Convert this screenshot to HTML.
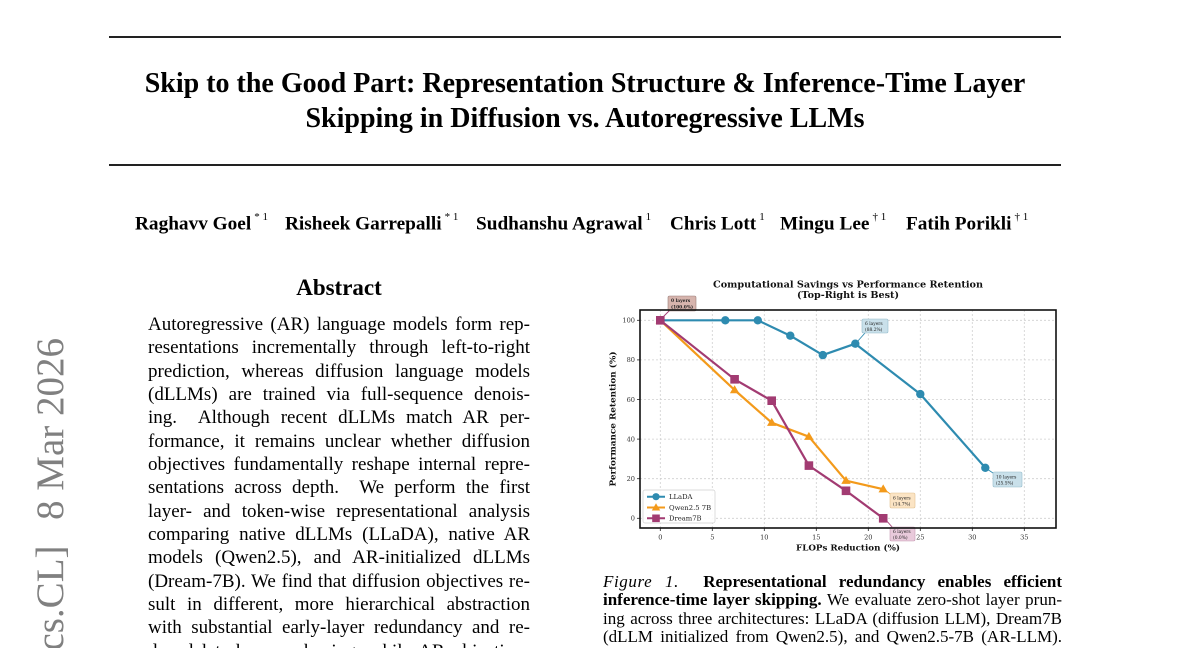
<!DOCTYPE html>
<html>
<head>
<meta charset="utf-8">
<style>
  html,body{margin:0;padding:0;background:#fff;}
  body{width:1200px;height:648px;position:relative;overflow:hidden;font-family:"Liberation Serif","Times New Roman",serif;color:#000;}
  .rule{position:absolute;left:109px;width:952px;height:2px;background:#222;}
  .title{position:absolute;left:0;width:1170px;text-align:center;font-weight:bold;font-size:28px;line-height:28px;white-space:nowrap;}
  .auth{position:absolute;top:210px;font-weight:bold;font-size:19.3px;line-height:19px;white-space:nowrap;}
  .auth sup{font-weight:normal;font-size:11px;position:relative;top:-2px;margin-left:3px;}
  .abs-h{position:absolute;left:148px;width:382px;top:276px;text-align:center;font-weight:bold;font-size:23px;line-height:23px;}
  .abs{position:absolute;left:148px;top:313px;width:382px;height:335px;overflow:hidden;font-size:19px;}
  .abs div,.cap div{height:23.33px;line-height:23.33px;overflow:hidden;text-align:justify;text-align-last:justify;}
  .cap{position:absolute;left:603px;top:572.5px;width:459px;font-size:17px;}
  .cap div{height:18.6px;line-height:18.6px;}
</style>
</head>
<body>
<div class="rule" style="top:36px"></div>
<div class="title" style="top:69.5px">Skip to the Good Part: Representation Structure &amp; Inference-Time Layer</div>
<div class="title" style="top:104.5px">Skipping in Diffusion vs. Autoregressive LLMs</div>
<div class="rule" style="top:164px"></div>

<div class="auth" style="left:135px">Raghavv Goel<sup>* 1</sup></div>
<div class="auth" style="left:285px">Risheek Garrepalli<sup>* 1</sup></div>
<div class="auth" style="left:476px">Sudhanshu Agrawal<sup>1</sup></div>
<div class="auth" style="left:670px">Chris Lott<sup>1</sup></div>
<div class="auth" style="left:780px">Mingu Lee<sup>† 1</sup></div>
<div class="auth" style="left:906px">Fatih Porikli<sup>† 1</sup></div>

<div class="abs-h">Abstract</div>
<div class="abs">
<div>Autoregressive (AR) language models form rep-</div>
<div>resentations incrementally through left-to-right</div>
<div>prediction, whereas diffusion language models</div>
<div>(dLLMs) are trained via full-sequence denois-</div>
<div>ing.&nbsp; Although recent dLLMs match AR per-</div>
<div>formance, it remains unclear whether diffusion</div>
<div>objectives fundamentally reshape internal repre-</div>
<div>sentations across depth.&nbsp; We perform the first</div>
<div>layer- and token-wise representational analysis</div>
<div>comparing native dLLMs (LLaDA), native AR</div>
<div>models (Qwen2.5), and AR-initialized dLLMs</div>
<div>(Dream-7B). We find that diffusion objectives re-</div>
<div>sult in different, more hierarchical abstraction</div>
<div>with substantial early-layer redundancy and re-</div>
<div>duced late-layer reshaping, while AR objectives yield</div>
</div>

<div class="cap">
<div><i style="letter-spacing:0.6px">Figure 1.</i>&nbsp; <b>Representational redundancy enables efficient</b></div>
<div><b>inference-time layer skipping.</b> We evaluate zero-shot layer prun-</div>
<div>ing across three architectures: LLaDA (diffusion LLM), Dream7B</div>
<div>(dLLM initialized from Qwen2.5), and Qwen2.5-7B (AR-LLM).</div>
</div>

<svg width="1200" height="648" style="position:absolute;left:0;top:0" xmlns="http://www.w3.org/2000/svg">
  <!-- arXiv stamp -->
  <text transform="translate(63,338) rotate(-90)" text-anchor="end" font-family="Liberation Serif, serif" font-size="39" fill="#808080"><tspan>arXiv:2603.07475v1&#160;&#160;[cs.CL]</tspan><tspan dx="6">&#160;&#160;8 Mar 2026</tspan></text>

  <g font-family="DejaVu Serif, serif">
    <!-- title -->
    <text x="848" y="287.3" text-anchor="middle" font-weight="bold" font-size="9.3" fill="#111" textLength="270" lengthAdjust="spacingAndGlyphs">Computational Savings vs Performance Retention</text>
    <text x="848" y="298" text-anchor="middle" font-weight="bold" font-size="9.3" fill="#111" textLength="102" lengthAdjust="spacingAndGlyphs">(Top-Right is Best)</text>

    <!-- grid -->
    <g stroke="#cfcfcf" stroke-width="0.8" stroke-dasharray="2,2">
      <line x1="660.3" y1="310" x2="660.3" y2="528"/>
      <line x1="712.3" y1="310" x2="712.3" y2="528"/>
      <line x1="764.3" y1="310" x2="764.3" y2="528"/>
      <line x1="816.3" y1="310" x2="816.3" y2="528"/>
      <line x1="868.3" y1="310" x2="868.3" y2="528"/>
      <line x1="920.3" y1="310" x2="920.3" y2="528"/>
      <line x1="972.3" y1="310" x2="972.3" y2="528"/>
      <line x1="1024.3" y1="310" x2="1024.3" y2="528"/>
      <line x1="640" y1="518.3" x2="1056" y2="518.3"/>
      <line x1="640" y1="478.7" x2="1056" y2="478.7"/>
      <line x1="640" y1="439.1" x2="1056" y2="439.1"/>
      <line x1="640" y1="399.5" x2="1056" y2="399.5"/>
      <line x1="640" y1="359.9" x2="1056" y2="359.9"/>
      <line x1="640" y1="320.3" x2="1056" y2="320.3"/>
    </g>

    <!-- ticks -->
    <g stroke="#222" stroke-width="0.8">
      <line x1="637" y1="518.3" x2="640" y2="518.3"/>
      <line x1="637" y1="478.7" x2="640" y2="478.7"/>
      <line x1="637" y1="439.1" x2="640" y2="439.1"/>
      <line x1="637" y1="399.5" x2="640" y2="399.5"/>
      <line x1="637" y1="359.9" x2="640" y2="359.9"/>
      <line x1="637" y1="320.3" x2="640" y2="320.3"/>
      <line x1="660.3" y1="528" x2="660.3" y2="531"/>
      <line x1="712.3" y1="528" x2="712.3" y2="531"/>
      <line x1="764.3" y1="528" x2="764.3" y2="531"/>
      <line x1="816.3" y1="528" x2="816.3" y2="531"/>
      <line x1="868.3" y1="528" x2="868.3" y2="531"/>
      <line x1="920.3" y1="528" x2="920.3" y2="531"/>
      <line x1="972.3" y1="528" x2="972.3" y2="531"/>
      <line x1="1024.3" y1="528" x2="1024.3" y2="531"/>
    </g>
    <g font-size="6.6" fill="#333" text-anchor="end">
      <text x="635" y="520.6">0</text>
      <text x="635" y="481">20</text>
      <text x="635" y="441.4">40</text>
      <text x="635" y="401.8">60</text>
      <text x="635" y="362.2">80</text>
      <text x="635" y="322.6">100</text>
    </g>
    <g font-size="6.6" fill="#333" text-anchor="middle">
      <text x="660.3" y="539.3">0</text>
      <text x="712.3" y="539.3">5</text>
      <text x="764.3" y="539.3">10</text>
      <text x="816.3" y="539.3">15</text>
      <text x="868.3" y="539.3">20</text>
      <text x="920.3" y="539.3">25</text>
      <text x="972.3" y="539.3">30</text>
      <text x="1024.3" y="539.3">35</text>
    </g>

    <!-- axis labels -->
    <text x="848" y="550.5" text-anchor="middle" font-weight="bold" font-size="8.2" fill="#111" textLength="104" lengthAdjust="spacingAndGlyphs">FLOPs Reduction (%)</text>
    <text transform="translate(615.5,419) rotate(-90)" text-anchor="middle" font-weight="bold" font-size="8.2" fill="#111" textLength="135" lengthAdjust="spacingAndGlyphs">Performance Retention (%)</text>

    <!-- LLaDA -->
    <polyline fill="none" stroke="#2E8BB0" stroke-width="2.2" stroke-linejoin="round" points="660.3,320.3 725.3,320.3 757.8,320.3 790.3,335.7 822.8,355.1 855.3,343.7 920.3,394.1 985.3,467.8"/>
    <g fill="#2E8BB0">
      <circle cx="660.3" cy="320.3" r="4.2"/>
      <circle cx="725.3" cy="320.3" r="4.2"/>
      <circle cx="757.8" cy="320.3" r="4.2"/>
      <circle cx="790.3" cy="335.7" r="4.2"/>
      <circle cx="822.8" cy="355.1" r="4.2"/>
      <circle cx="855.3" cy="343.7" r="4.2"/>
      <circle cx="920.3" cy="394.1" r="4.2"/>
      <circle cx="985.3" cy="467.8" r="4.2"/>
    </g>

    <!-- Qwen -->
    <polyline fill="none" stroke="#F39A1B" stroke-width="2.2" stroke-linejoin="round" points="660.3,320.3 734.6,390 771.7,422.7 808.9,436.7 846,480.7 883.2,489.2"/>
    <g fill="#F39A1B">
      <polygon points="660.3,315.5 665,323.5 655.6,323.5"/>
      <polygon points="734.6,385.2 739.3,393.2 729.9,393.2"/>
      <polygon points="771.7,417.9 776.4,425.9 767,425.9"/>
      <polygon points="808.9,431.9 813.6,439.9 804.2,439.9"/>
      <polygon points="846,475.9 850.7,483.9 841.3,483.9"/>
      <polygon points="883.2,484.4 887.9,492.4 878.5,492.4"/>
    </g>

    <!-- Dream -->
    <polyline fill="none" stroke="#A23B72" stroke-width="2.2" stroke-linejoin="round" points="660.3,320.3 734.6,379.3 771.7,400.7 808.9,465.6 846,490.8 883.2,518.3"/>
    <g fill="#A23B72">
      <rect x="656" y="316" width="8.6" height="8.6"/>
      <rect x="730.3" y="375" width="8.6" height="8.6"/>
      <rect x="767.4" y="396.4" width="8.6" height="8.6"/>
      <rect x="804.6" y="461.3" width="8.6" height="8.6"/>
      <rect x="841.7" y="486.5" width="8.6" height="8.6"/>
      <rect x="878.9" y="514" width="8.6" height="8.6"/>
    </g>

    <!-- annotation arrows -->
    <g stroke-width="0.9">
      <line x1="662" y1="318" x2="670" y2="310" stroke="#A23B72"/>
      <line x1="857" y1="342" x2="865" y2="333" stroke="#2E8BB0"/>
      <line x1="987" y1="469" x2="996" y2="475" stroke="#2E8BB0"/>
      <line x1="885" y1="490" x2="893" y2="496" stroke="#F39A1B"/>
      <line x1="885" y1="519" x2="893" y2="528" stroke="#A23B72"/>
    </g>

    <!-- annotation boxes -->
    <g font-size="4.4" fill="#222">
      <rect x="668" y="296" width="28" height="15" rx="1.5" fill="#d6b4ad" stroke="#9a7d78" stroke-width="0.6"/>
      <text x="671" y="302" font-weight="bold">0 layers</text>
      <text x="671" y="308.5" font-weight="bold">(100.0%)</text>

      <rect x="862" y="319" width="26" height="14" rx="1.5" fill="#c9e0ea" stroke="#94bccc" stroke-width="0.6"/>
      <text x="865" y="325">6 layers</text>
      <text x="865" y="331">(88.2%)</text>

      <rect x="993" y="472" width="29" height="15" rx="1.5" fill="#c9e0ea" stroke="#94bccc" stroke-width="0.6"/>
      <text x="996" y="478.5">10 layers</text>
      <text x="996" y="484.5">(25.5%)</text>

      <rect x="890" y="493" width="25" height="15" rx="1.5" fill="#fbe4c4" stroke="#e2c08e" stroke-width="0.6"/>
      <text x="893" y="499.5">6 layers</text>
      <text x="893" y="505.5">(14.7%)</text>

      <rect x="890" y="527" width="25" height="14" rx="1.5" fill="#e9cadb" stroke="#c79ab3" stroke-width="0.6"/>
      <text x="893" y="533">6 layers</text>
      <text x="893" y="539">(0.0%)</text>
    </g>

    <!-- frame -->
    <rect x="640" y="310" width="416" height="218" fill="none" stroke="#111" stroke-width="1.6"/>

    <!-- legend -->
    <rect x="643" y="490" width="72" height="33" rx="2" fill="#fff" fill-opacity="0.9" stroke="#cfcfcf" stroke-width="0.7"/>
    <line x1="647" y1="496.7" x2="665" y2="496.7" stroke="#2E8BB0" stroke-width="2"/>
    <circle cx="656" cy="496.7" r="3.6" fill="#2E8BB0"/>
    <line x1="647" y1="507.5" x2="665" y2="507.5" stroke="#F39A1B" stroke-width="2"/>
    <polygon points="656,503.3 660.2,510.5 651.8,510.5" fill="#F39A1B"/>
    <line x1="647" y1="518.3" x2="665" y2="518.3" stroke="#A23B72" stroke-width="2"/>
    <rect x="652.2" y="514.5" width="7.6" height="7.6" fill="#A23B72"/>
    <g font-size="6.8" fill="#222">
      <text x="669" y="499">LLaDA</text>
      <text x="669" y="509.8">Qwen2.5 7B</text>
      <text x="669" y="520.6">Dream7B</text>
    </g>
  </g>
</svg>
</body>
</html>
